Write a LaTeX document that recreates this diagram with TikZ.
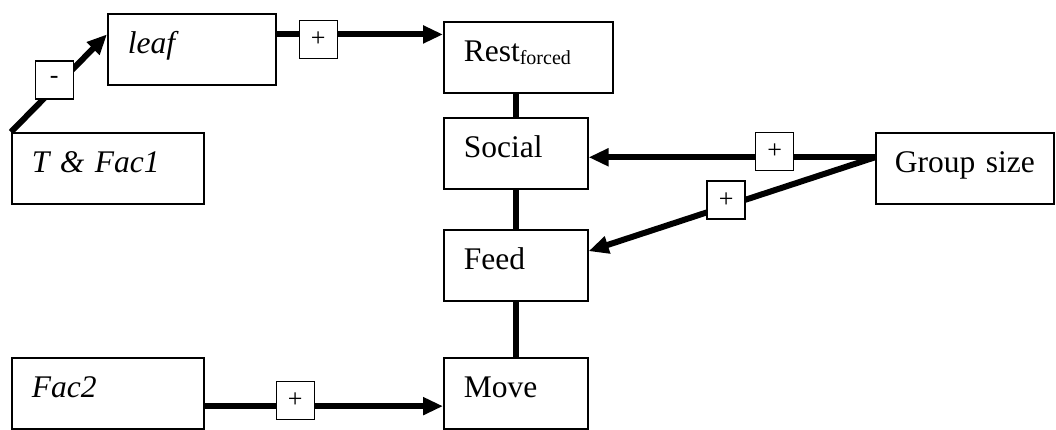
\documentclass[tikz,border=0pt]{standalone}
\usepackage{fontspec}
\setmainfont{Liberation Serif}
\usetikzlibrary{arrows.meta}
\tikzset{
  box/.style={draw,line width=1.6pt,anchor=north west,inner xsep=20pt,inner ysep=0pt,
    text height=20pt,text depth=11pt,minimum height=71pt,align=left,
    font=\fontsize{31.5}{38}\selectfont},
  sign/.style={draw,fill=white,line width=1.2pt,minimum size=38pt,inner sep=0pt,
    font=\fontsize{26}{30}\selectfont},
  link/.style={line width=6pt},
  arr/.style={link,-{Triangle[length=20pt,width=17pt]}}
}

\begin{document}
\begin{tikzpicture}[x=1pt,y=-1pt]
  \useasboundingbox (0,0) rectangle (1056,429);
  \node[box,text width=128pt] (leaf) at (107,13) {\textit{leaf}};
  \node[box,text width=152pt] (tf) at (11,132) {\textit{T \& Fac1}};
  \node[box,text width=152pt] (fac2) at (11,357) {\textit{Fac2}};
  \node[box,text width=129pt] (rest) at (443,21) {Rest\raisebox{-3pt}{\fontsize{20}{20}\selectfont forced}};
  \node[box,text width=104pt] (social) at (443,117) {Social};
  \node[box,text width=104pt] (feed) at (443,229) {Feed};
  \node[box,text width=104pt] (move) at (443,357) {Move};
  \node[box,inner xsep=19pt,text width=140pt] (group) at (875,132) {Group size};

  \draw[arr] (tf.north west) -- node[sign,pos=0.45,yshift=8pt] (m1) {-} (leaf.170);
  \draw[arr] (leaf.east |- rest.165) -- node[sign,pos=0.25,yshift=-5pt] (p1) {+} (rest.165);
  \draw[link] (social.north) -- (social.north |- rest.south);
  \draw[link] (social.south) -- (feed.north);
  \draw[link] (feed.south) -- (move.north);
  \draw[arr] (group.173) -- node[sign,pos=0.35,yshift=6pt] (p2) {+} (group.173 -| social.east);
  \draw[arr] (group.173) -- node[sign,pos=0.52,yshift=6pt] (p3) {+} (feed.11);
  \draw[arr] (fac2.east |- move.190) -- node[sign,pos=0.38,yshift=6pt] (p4) {+} (move.190);
\end{tikzpicture}
\end{document}
